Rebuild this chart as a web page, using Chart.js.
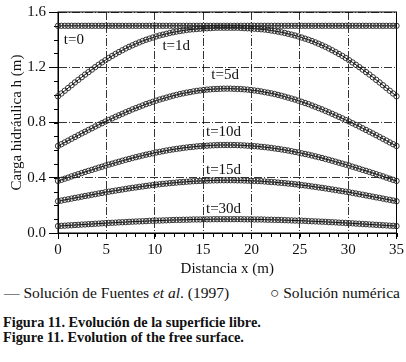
<!DOCTYPE html>
<html>
<head>
<meta charset="utf-8">
<script src="https://cdn.jsdelivr.net/npm/chart.js@4"></script>
<style>
  body { margin:0; background:#fff; width:406px; height:362px; position:relative; overflow:hidden; font-family:"Liberation Serif", "DejaVu Serif", serif; color:#111; }
  #grafico { position:absolute; left:0; top:0; }
  .txt { position:absolute; white-space:nowrap; }
  .leyenda { font-size:15.5px; line-height:16px; top:285px; }
  .pie { font-weight:bold; font-size:14.3px; line-height:15px; left:3px; }
</style>
</head>
<body>
<canvas id="grafico" width="406" height="280"></canvas>
<div class="txt leyenda" style="left:4px;">— Solución de Fuentes <i>et al</i>. (1997)</div>
<div class="txt leyenda" style="left:270px;">○ Solución numérica</div>
<div class="txt pie" style="top:315px;">Figura 11. Evolución de la superficie libre.</div>
<div class="txt pie" style="top:330px;">Figure 11. Evolution of the free surface.</div>
<script>
// Datos (x en m, h en m)
const distancia = [0,0.35,0.7,1.05,1.4,1.75,2.1,2.45,2.8,3.15,3.5,3.85,4.2,4.55,4.9,5.25,5.6,5.95,6.3,6.65,7,7.35,7.7,8.05,8.4,8.75,9.1,9.45,9.8,10.15,10.5,10.85,11.2,11.55,11.9,12.25,12.6,12.95,13.3,13.65,14,14.35,14.7,15.05,15.4,15.75,16.1,16.45,16.8,17.15,17.5,
  17.85,18.2,18.55,18.9,19.25,19.6,19.95,20.3,20.65,21,21.35,21.7,22.05,22.4,22.75,23.1,23.45,23.8,24.15,24.5,24.85,25.2,25.55,25.9,26.25,26.6,26.95,27.3,27.65,28,28.35,28.7,29.05,29.4,29.75,30.1,30.45,30.8,31.15,31.5,31.85,32.2,32.55,32.9,33.25,33.6,33.95,34.3,34.65,35];

const h_t0 = [1.5,1.5,1.5,1.5,1.5,1.5,1.5,1.5,1.5,1.5,1.5,1.5,1.5,1.5,1.5,1.5,1.5,1.5,1.5,1.5,1.5,1.5,1.5,1.5,1.5,1.5,1.5,1.5,1.5,1.5,1.5,1.5,1.5,1.5,1.5,1.5,1.5,1.5,1.5,1.5,1.5,1.5,1.5,1.5,1.5,1.5,1.5,1.5,1.5,1.5,1.5,
  1.5,1.5,1.5,1.5,1.5,1.5,1.5,1.5,1.5,1.5,1.5,1.5,1.5,1.5,1.5,1.5,1.5,1.5,1.5,1.5,1.5,1.5,1.5,1.5,1.5,1.5,1.5,1.5,1.5,1.5,1.5,1.5,1.5,1.5,1.5,1.5,1.5,1.5,1.5,1.5,1.5,1.5,1.5,1.5,1.5,1.5,1.5,1.5,1.5,1.5];

const h_t1 = [0.990,1.010,1.030,1.050,1.070,1.090,1.109,1.128,1.147,1.165,1.183,1.201,1.218,1.235,1.251,1.267,1.282,1.296,1.310,1.323,1.336,1.348,1.359,1.370,1.380,1.390,1.399,1.407,1.415,1.423,1.430,1.436,1.442,1.448,1.453,1.458,1.462,1.466,1.470,1.473,1.475,1.477,1.479,1.481,1.482,1.483,1.485,1.486,1.486,1.486,1.486,
  1.486,1.486,1.486,1.485,1.483,1.482,1.481,1.479,1.477,1.475,1.473,1.470,1.466,1.462,1.458,1.453,1.448,1.442,1.436,1.430,1.423,1.415,1.407,1.399,1.390,1.380,1.370,1.359,1.348,1.336,1.323,1.310,1.296,1.282,1.267,1.251,1.235,1.218,1.201,1.183,1.165,1.147,1.128,1.109,1.090,1.070,1.050,1.030,1.010,0.990];

const h_t5 = [0.630,0.643,0.656,0.669,0.682,0.695,0.708,0.721,0.733,0.746,0.758,0.771,0.783,0.795,0.807,0.818,0.830,0.841,0.852,0.863,0.874,0.884,0.895,0.904,0.914,0.923,0.933,0.941,0.950,0.958,0.966,0.973,0.980,0.987,0.994,1.000,1.006,1.011,1.016,1.020,1.025,1.029,1.032,1.035,1.038,1.040,1.042,1.043,1.044,1.045,1.045,
  1.045,1.044,1.043,1.042,1.040,1.038,1.035,1.032,1.029,1.025,1.020,1.016,1.011,1.006,1.000,0.994,0.987,0.980,0.973,0.966,0.958,0.950,0.941,0.933,0.923,0.914,0.904,0.895,0.884,0.874,0.863,0.852,0.841,0.830,0.818,0.807,0.795,0.783,0.771,0.758,0.746,0.733,0.721,0.708,0.695,0.682,0.669,0.656,0.643,0.630];

const h_t10 = [0.377,0.385,0.393,0.401,0.410,0.418,0.426,0.434,0.442,0.450,0.457,0.465,0.473,0.480,0.488,0.495,0.502,0.509,0.516,0.523,0.530,0.536,0.543,0.549,0.555,0.561,0.567,0.572,0.577,0.583,0.587,0.592,0.597,0.601,0.605,0.609,0.612,0.616,0.619,0.622,0.624,0.627,0.629,0.631,0.632,0.634,0.635,0.636,0.637,0.637,0.637,
  0.637,0.637,0.636,0.635,0.634,0.632,0.631,0.629,0.627,0.624,0.622,0.619,0.616,0.612,0.609,0.605,0.601,0.597,0.592,0.587,0.583,0.577,0.572,0.567,0.561,0.555,0.549,0.543,0.536,0.530,0.523,0.516,0.509,0.502,0.495,0.488,0.480,0.473,0.465,0.457,0.450,0.442,0.434,0.426,0.418,0.410,0.401,0.393,0.385,0.377];

const h_t15 = [0.230,0.235,0.240,0.244,0.249,0.254,0.258,0.263,0.268,0.272,0.277,0.281,0.286,0.290,0.295,0.299,0.303,0.307,0.311,0.315,0.319,0.323,0.327,0.330,0.334,0.337,0.341,0.344,0.347,0.350,0.353,0.356,0.358,0.361,0.363,0.365,0.368,0.369,0.371,0.373,0.375,0.376,0.377,0.378,0.379,0.380,0.381,0.381,0.382,0.382,0.382,
  0.382,0.382,0.381,0.381,0.380,0.379,0.378,0.377,0.376,0.375,0.373,0.371,0.369,0.368,0.365,0.363,0.361,0.358,0.356,0.353,0.350,0.347,0.344,0.341,0.337,0.334,0.330,0.327,0.323,0.319,0.315,0.311,0.307,0.303,0.299,0.295,0.290,0.286,0.281,0.277,0.272,0.268,0.263,0.258,0.254,0.249,0.244,0.240,0.235,0.230];

const h_t30 = [0.050,0.052,0.053,0.055,0.056,0.058,0.059,0.061,0.062,0.064,0.065,0.067,0.068,0.070,0.071,0.073,0.074,0.075,0.077,0.078,0.079,0.081,0.082,0.083,0.084,0.085,0.086,0.088,0.089,0.090,0.090,0.091,0.092,0.093,0.094,0.095,0.095,0.096,0.096,0.097,0.098,0.098,0.098,0.099,0.099,0.099,0.100,0.100,0.100,0.100,0.100,
  0.100,0.100,0.100,0.100,0.099,0.099,0.099,0.098,0.098,0.098,0.097,0.096,0.096,0.095,0.095,0.094,0.093,0.092,0.091,0.090,0.090,0.089,0.088,0.086,0.085,0.084,0.083,0.082,0.081,0.079,0.078,0.077,0.075,0.074,0.073,0.071,0.070,0.068,0.067,0.065,0.064,0.062,0.061,0.059,0.058,0.056,0.055,0.053,0.052,0.050];

const series = [h_t0, h_t1, h_t5, h_t10, h_t15, h_t30];
const tiempos = ['t=0', 't=1d', 't=5d', 't=10d', 't=15d', 't=30d'];
// donde van las etiquetas (en unidades de los ejes)
const etiquetaX = [0.6, 10.8, 15.85, 15.3, 15.3, 15.3];
const etiquetaY = [1.40, 1.35, 1.14, 0.73, 0.455, 0.174];

const yTicks = [0, 0.4, 0.8, 1.2, 1.6];
const xTicks = [0, 5, 10, 15, 20, 25, 30, 35];

const fuente = '"Liberation Serif", "DejaVu Serif", serif';

// marco, ticks menores y etiquetas t=...
const extras = {
  id: 'extras',
  beforeDatasetsDraw(chart){
    const {ctx, chartArea:a, scales:{x, y}} = chart;
    ctx.save();
    ctx.strokeStyle = '#000'; ctx.lineWidth = 1;
    ctx.strokeRect(a.left, a.top, a.right-a.left, a.bottom-a.top);
    ctx.beginPath();
    for(let v=0; v<=35; v++){
      const px = Math.round(x.getPixelForValue(v))+0.5;
      ctx.moveTo(px, a.bottom); ctx.lineTo(px, a.bottom+4);
    }
    for(let k=0; k<=16; k++){
      const py = Math.round(y.getPixelForValue(k/10))+0.5;
      ctx.moveTo(a.left, py); ctx.lineTo(a.left-4, py);
    }
    ctx.stroke();
    ctx.restore();
  },
  afterDatasetsDraw(chart){
    const {ctx, scales:{x, y}} = chart;
    ctx.save();
    ctx.fillStyle = '#111';
    ctx.font = '15px ' + fuente;
    ctx.textAlign = 'left'; ctx.textBaseline = 'middle';
    tiempos.forEach((t,i)=> ctx.fillText(t, x.getPixelForValue(etiquetaX[i]), y.getPixelForValue(etiquetaY[i])));
    ctx.restore();
  }
};

const datasets = series.map((s,i)=>({
  label: tiempos[i],
  data: distancia.map((d,j)=>({x:d, y:s[j]})),
  showLine: true,
  borderColor: '#000',
  borderWidth: 1,
  pointStyle: 'circle',
  pointRadius: 2.7,
  pointBorderWidth: 0.9,
  pointBorderColor: '#222',
  pointBackgroundColor: 'rgba(255,255,255,0)',
  clip: false
}));

new Chart(document.getElementById('grafico'), {
  type: 'scatter',
  data: { datasets },
  options: {
    responsive: false,
    animation: false,
    devicePixelRatio: 1,
    layout: { padding: { top: 12, right: 9, left: 0, bottom: 0 } },
    plugins: { legend: { display: false }, tooltip: { enabled: false } },
    scales: {
      x: {
        type: 'linear', min: 0, max: 35,
        afterBuildTicks: s => { s.ticks = xTicks.map(v=>({value:v})); },
        afterFit: s => { s.height = 47; },
        ticks: { color: '#111', font: { family: fuente, size: 15 }, padding: 2, maxRotation: 0 },
        grid: { color: '#000', lineWidth: 0.8, drawTicks: true, tickLength: 6, tickColor: '#000', tickWidth: 1 },
        border: { display: true, color: '#000', width: 1, dash: [8, 2, 1, 2] },
        title: { display: true, text: 'Distancia x (m)', color: '#111', font: { family: fuente, size: 15 }, padding: { top: 0, bottom: 2 } }
      },
      y: {
        type: 'linear', min: 0, max: 1.6,
        afterBuildTicks: s => { s.ticks = yTicks.map(v=>({value:v})); },
        afterFit: s => { s.width = 58; },
        ticks: { color: '#111', font: { family: fuente, size: 15 }, padding: 3, callback: v => v.toFixed(1) },
        grid: { color: '#000', lineWidth: 0.8, drawTicks: true, tickLength: 9, tickColor: '#000', tickWidth: 1 },
        border: { display: true, color: '#000', width: 1, dash: [8, 2, 1, 2] },
        title: { display: true, text: 'Carga hidráulica h (m)', color: '#111', font: { family: fuente, size: 15 }, padding: { top: 8, bottom: 0 } }
      }
    }
  },
  plugins: [extras]
});
</script>
</body>
</html>
